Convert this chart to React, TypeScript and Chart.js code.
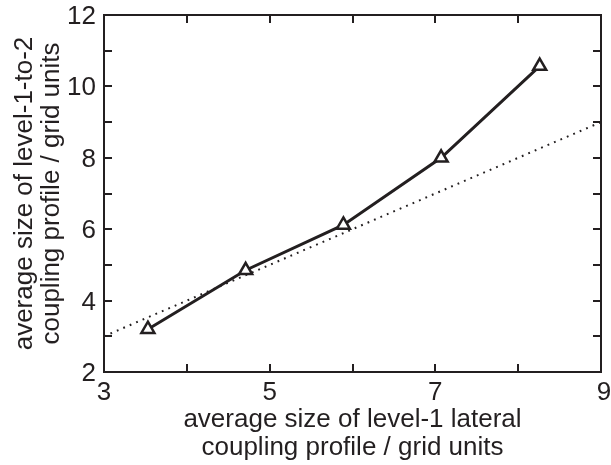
import React, { useEffect, useRef } from "react";
import { Chart, registerables } from "chart.js";

Chart.register(...registerables);

// Measured profile sizes
const lateralSize = [3.53, 4.71, 5.89, 7.07, 8.26];
const level12Size = [3.2, 4.85, 6.12, 8.0, 10.57];

// Reference diagonal y = x
const diagX = [3, 9];
const diagY = [3, 9];

const xTickLabels = [3, 5, 7, 9];
const yTickLabels = [2, 4, 6, 8, 10, 12];
const xMinor = [3, 4, 5, 6, 7, 8, 9];
const yMinor = [2, 3, 4, 5, 6, 7, 8, 9, 10, 11, 12];

const xTitle = ["average size of level-1 lateral", "coupling profile / grid units"];
const yTitle = ["average size of level-1-to-2", "coupling profile / grid units"];

const INK = "#231f20";
const FONT = '26px "Liberation Sans", Arial, Helvetica, sans-serif';

const framePlugin = {
  id: "frame",
  afterDraw(chart: any) {
    const ctx = chart.ctx as CanvasRenderingContext2D;
    const { left, right, top, bottom } = chart.chartArea;
    const xs = chart.scales.x;
    const ys = chart.scales.y;
    ctx.save();
    ctx.strokeStyle = INK;
    ctx.lineWidth = 2;
    ctx.strokeRect(left, top, right - left, bottom - top);

    // inward ticks on all four sides
    const tl = 8;
    ctx.beginPath();
    xMinor.forEach((v) => {
      const px = Math.round(xs.getPixelForValue(v));
      ctx.moveTo(px, bottom);
      ctx.lineTo(px, bottom - tl);
      ctx.moveTo(px, top);
      ctx.lineTo(px, top + tl);
    });
    yMinor.forEach((v) => {
      const py = Math.round(ys.getPixelForValue(v));
      ctx.moveTo(left, py);
      ctx.lineTo(left + tl, py);
      ctx.moveTo(right, py);
      ctx.lineTo(right - tl, py);
    });
    ctx.stroke();

    ctx.fillStyle = INK;
    ctx.font = FONT;
    ctx.textBaseline = "alphabetic";

    ctx.textAlign = "center";
    xTickLabels.forEach((v) => {
      ctx.fillText(String(v), xs.getPixelForValue(v) + (v === 9 ? 3 : 0), bottom + 28);
    });
    ctx.textAlign = "right";
    yTickLabels.forEach((v) => {
      ctx.fillText(String(v), left - 8, ys.getPixelForValue(v) + 9);
    });

    // axis titles
    const cx = (left + right) / 2;
    ctx.textAlign = "center";
    ctx.fillText(xTitle[0], cx, bottom + 55);
    ctx.fillText(xTitle[1], cx, bottom + 83);

    const cy = (top + bottom) / 2;
    ctx.save();
    ctx.translate(0, cy);
    ctx.rotate(-Math.PI / 2);
    ctx.fillText(yTitle[0], 0, 32);
    ctx.fillText(yTitle[1], 0, 59);
    ctx.restore();

    ctx.restore();
  },
};

export default function App() {
  const ref = useRef<HTMLCanvasElement>(null);

  useEffect(() => {
    if (!ref.current) return;
    const chart = new Chart(ref.current, {
      type: "scatter",
      data: {
        datasets: [
          {
            data: diagX.map((x, i) => ({ x, y: diagY[i] })),
            showLine: true,
            borderColor: INK,
            borderWidth: 2,
            borderDash: [1.8, 5.2],
            pointRadius: 0,
            order: 2,
          },
          {
            data: lateralSize.map((x, i) => ({ x, y: level12Size[i] })),
            showLine: true,
            borderColor: INK,
            borderWidth: 3,
            pointStyle: "triangle",
            pointRadius: 7.5,
            pointBorderWidth: 2.5,
            pointBackgroundColor: "#ffffff",
            pointBorderColor: INK,
            order: 1,
          },
        ],
      },
      options: {
        responsive: false,
        animation: false,
        layout: { padding: { left: 104, right: 6, top: 15, bottom: 93 } },
        plugins: { legend: { display: false }, tooltip: { enabled: false } },
        scales: {
          x: { type: "linear", min: 3, max: 9, display: false },
          y: { type: "linear", min: 2, max: 12, display: false },
        },
      },
      plugins: [framePlugin],
    });
    return () => chart.destroy();
  }, []);

  return (
    <div style={{ position: "absolute", left: 0, top: 0, width: 611, height: 465, background: "#fff" }}>
      <canvas ref={ref} width={611} height={465} />
    </div>
  );
}
